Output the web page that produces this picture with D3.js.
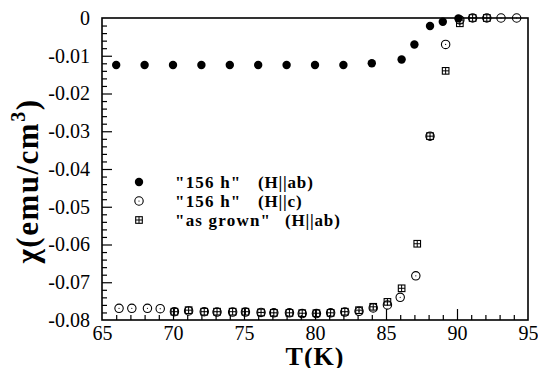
<!DOCTYPE html>
<html>
<head>
<meta charset="utf-8">
<script src="https://cdn.jsdelivr.net/npm/d3@7"></script>
<style>
  html, body { margin: 0; padding: 0; background: #fff; }
  svg { display: block; }
  svg text { font-family: "Liberation Serif", "DejaVu Serif", serif; fill: #000; }
</style>
</head>
<body>
<svg id="chart" width="538" height="368"></svg>
<script>
// ---- data ----
const tFilledAb = [66, 68, 70, 72, 74, 76, 78, 80, 82, 84, 86.1, 87, 88.1, 89, 90.1];
const chiFilledAb = [-0.01245, -0.01245, -0.01245, -0.01245, -0.01245, -0.01245, -0.01245, -0.01245, -0.01245, -0.0120, -0.0110, -0.0070, -0.0021, -0.0010, -0.0001];

const tOpenC = [66.2, 67.1, 68.2, 69.1, 70.1, 71.1, 72.2, 73.1, 74.2, 75.1, 76.2, 77.1, 78.2, 79.1, 80.1, 81.1, 82.1, 83.1, 84.1, 85.1, 86.0, 87.1, 88.1, 89.2, 90.2, 91.1, 92.1, 93.1, 94.2];
const chiOpenC = [-0.0769, -0.0769, -0.0769, -0.0770, -0.0778, -0.0776, -0.0778, -0.0779, -0.0779, -0.0779, -0.0780, -0.0781, -0.0781, -0.0783, -0.0783, -0.0781, -0.0779, -0.0777, -0.0768, -0.0760, -0.0740, -0.0683, -0.0313, -0.0070, -0.0005, 0, 0, 0, 0];

const tGrownAb = [70.1, 71.1, 72.2, 73.1, 74.2, 75.1, 76.2, 77.1, 78.2, 79.1, 80.1, 81.1, 82.1, 83.1, 84.1, 85.1, 86.1, 87.2, 88.1, 89.2, 90.2, 91.1, 92.1];
const chiGrownAb = [-0.0778, -0.0774, -0.0778, -0.0778, -0.0778, -0.0778, -0.0780, -0.0781, -0.0781, -0.0782, -0.0782, -0.0781, -0.0778, -0.0774, -0.0765, -0.0752, -0.0716, -0.0598, -0.0313, -0.0140, -0.0014, 0, 0];

const xMajorTicks = [65, 70, 75, 80, 85, 90, 95];
const yMajorTicks = [0, -0.01, -0.02, -0.03, -0.04, -0.05, -0.06, -0.07, -0.08];
const yTickLabels = ["0", "-0.01", "-0.02", "-0.03", "-0.04", "-0.05", "-0.06", "-0.07", "-0.08"];
const legendParts = [
  ["\"156 h\"", "(H||ab)"],
  ["\"156 h\"", "(H||c)"],
  ["\"as grown\"", "(H||ab)"]
];

// ---- layout ----
const svg = d3.select("#chart");
const L = 102, R = 528, T = 18, B = 320;
const x = d3.scaleLinear().domain([65, 95]).range([L, R]);
const y = d3.scaleLinear().domain([-0.08, 0]).range([B, T]);
const serif = "Liberation Serif, DejaVu Serif, serif";

// minor ticks
const xMinor = d3.range(65, 95.01, 1).filter(v => v % 5 !== 0);
const yMinor = d3.range(0, 41, 1).filter(i => i % 5 !== 0).map(i => -i * 0.002);

const gxMinor = svg.append("g").attr("transform", `translate(0,${B})`)
  .call(d3.axisBottom(x).tickValues(xMinor).tickSize(-5).tickFormat(""));
const gyMinor = svg.append("g").attr("transform", `translate(${L},0)`)
  .call(d3.axisLeft(y).tickValues(yMinor).tickSize(-5).tickFormat(""));

const gx = svg.append("g").attr("transform", `translate(0,${B})`)
  .call(d3.axisBottom(x).tickValues(xMajorTicks).tickSize(-11).tickPadding(6).tickFormat(d3.format("d")));
const gy = svg.append("g").attr("transform", `translate(${L},0)`)
  .call(d3.axisLeft(y).tickValues(yMajorTicks).tickSize(-10).tickPadding(12)
    .tickFormat((d, i) => yTickLabels[i]));

[gxMinor, gyMinor, gx, gy].forEach(g => {
  g.attr("font-family", null).attr("font-size", null);
  g.select(".domain").remove();
  g.selectAll("line").attr("stroke", "#000").attr("stroke-width", 1.2);
});
gx.selectAll("text").style("font-family", serif).style("font-size", "20px").attr("fill", "#000");
gy.selectAll("text").style("font-family", serif).style("font-size", "20px").attr("fill", "#000");
gx.selectAll(".tick line").filter(d => d === 65 || d === 95).remove();
gy.selectAll(".tick line").filter(d => d === 0 || d === -0.08).remove();

// frame
svg.append("rect").attr("x", L).attr("y", T).attr("width", R - L).attr("height", B - T)
  .attr("fill", "none").attr("stroke", "#000").attr("stroke-width", 1.6);

// axis titles
svg.append("text").attr("x", (L + R) / 2).attr("y", 365).attr("text-anchor", "middle")
  .style("font-family", serif).style("font-weight", "bold").style("font-size", "26px")
  .attr("letter-spacing", 1)
  .text("T(K)");
const yt = svg.append("text").attr("transform", `translate(38,${(T + B) / 2 + 12}) rotate(-90)`)
  .attr("text-anchor", "middle")
  .style("font-family", serif).style("font-weight", "bold").style("font-size", "31px")
  .attr("letter-spacing", 1.5);
yt.append("tspan").text("χ(emu/cm");
yt.append("tspan").attr("dy", -13).style("font-size", "20px").text("3");
yt.append("tspan").attr("dy", 13).text(")");

// ---- markers ----
function drawFilled(g, cx, cy) {
  g.append("circle").attr("cx", cx).attr("cy", cy).attr("r", 4.2).attr("fill", "#000");
}
function drawOpen(g, cx, cy) {
  g.append("circle").attr("cx", cx).attr("cy", cy).attr("r", 4.2).attr("fill", "none")
    .attr("stroke", "#000").attr("stroke-width", 1.1);
  g.append("circle").attr("cx", cx).attr("cy", cy).attr("r", 0.6).attr("fill", "#000");
}
function drawBoxCross(g, cx, cy) {
  const s = 3.3;
  g.append("rect").attr("x", cx - s).attr("y", cy - s).attr("width", 2 * s).attr("height", 2 * s)
    .attr("fill", "none").attr("stroke", "#000").attr("stroke-width", 1.1);
  g.append("line").attr("x1", cx - s).attr("x2", cx + s).attr("y1", cy).attr("y2", cy)
    .attr("stroke", "#000").attr("stroke-width", 1);
  g.append("line").attr("x1", cx).attr("x2", cx).attr("y1", cy - s).attr("y2", cy + s)
    .attr("stroke", "#000").attr("stroke-width", 1);
}

const gOpen = svg.append("g");
tOpenC.forEach((t, i) => drawOpen(gOpen, x(t), y(chiOpenC[i])));
const gGrown = svg.append("g");
tGrownAb.forEach((t, i) => drawBoxCross(gGrown, x(t), y(chiGrownAb[i])));
const gFilled = svg.append("g");
tFilledAb.forEach((t, i) => drawFilled(gFilled, x(t), y(chiFilledAb[i])));

// ---- legend ----
const legY = [182, 201, 220];
const legDraw = [drawFilled, drawOpen, drawBoxCross];
const gLeg = svg.append("g");
legendParts.forEach((p, i) => {
  legDraw[i](gLeg, 139, legY[i]);
  gLeg.append("text").attr("x", 175).attr("y", legY[i] + 6)
    .style("font-family", serif).style("font-weight", "bold").style("font-size", "17px")
    .attr("letter-spacing", 1.2).text(p[0]);
  gLeg.append("text").attr("x", i === 2 ? 285 : 258).attr("y", legY[i] + 6)
    .style("font-family", serif).style("font-weight", "bold").style("font-size", "17px")
    .attr("letter-spacing", 0.8).text(p[1]);
});
</script>
</body>
</html>
